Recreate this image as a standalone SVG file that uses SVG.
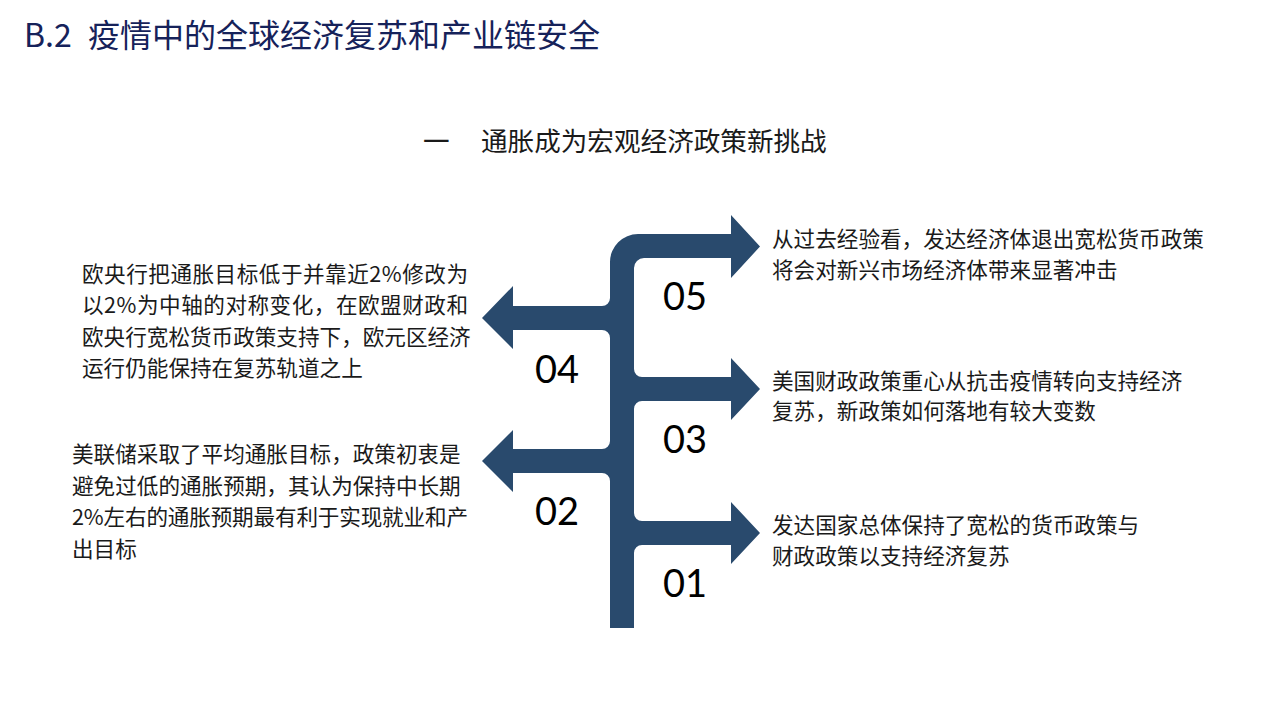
<svg xmlns="http://www.w3.org/2000/svg" width="1280" height="720" viewBox="0 0 1280 720">
  <style>
    .bg { fill: #ffffff; }
    .arrow { fill: #294a6d; }
    .title { font-family: "Noto Sans CJK SC", "Noto Sans", sans-serif; font-size: 32px; fill: #16225a; }
    .sub { font-family: "Noto Sans CJK SC", "Noto Sans", sans-serif; font-size: 26.6px; fill: #1a1a1a; }
    .body { font-family: "Noto Sans CJK SC", "Noto Sans", sans-serif; font-size: 21.6px; fill: #1a1a1a; }
    .num { font-family: Lato, "Noto Sans", sans-serif; font-size: 38px; fill: #000000; text-anchor: middle; }
  </style>
  <rect class="bg" x="0" y="0" width="1280" height="720"/>

  <g id="title">
    <text class="title" y="47"><tspan x="24">B.2</tspan><tspan x="88">疫情中的全球经济复苏和产业链安全</tspan></text>
  </g>
  <g id="subtitle">
    <text class="sub" y="151"><tspan x="423">一</tspan><tspan x="481">通胀成为宏观经济政策新挑战</tspan></text>
  </g>

  <g id="connectors">
    <path class="arrow" d="M610,628 L610,262 A28,28 0 0 1 638,234 L731,234 L731,215 L760,246.5 L731,278 L731,258 L644,258 A10,10 0 0 0 634,268 L634,628 Z"/>
  </g>

  <g id="node-05">
    <text class="num" x="685" y="310">05</text>
    <text class="body"><tspan x="772" y="247">从过去经验看，发达经济体退出宽松货币政策</tspan><tspan x="772" y="278">将会对新兴市场经济体带来显著冲击</tspan></text>
  </g>

  <g id="node-04">
    <path class="arrow" d="M610,298 A8,8 0 0 1 602,306 L513,306 L513,286 L482,318 L513,349 L513,330 L602,330 A8,8 0 0 1 610,338 L622,338 L622,298 Z"/>
    <text class="num" x="557" y="383">04</text>
    <text class="body" x="82" y="282" textLength="386" lengthAdjust="spacing">欧央行把通胀目标低于并靠近2%修改为</text>
    <text class="body" x="82" y="313" textLength="386" lengthAdjust="spacing">以2%为中轴的对称变化，在欧盟财政和</text>
    <text class="body"><tspan x="82" y="345">欧央行宽松货币政策支持下，欧元区经济</tspan><tspan x="82" y="376">运行仍能保持在复苏轨道之上</tspan></text>
  </g>

  <g id="node-03">
    <path class="arrow" d="M634,369 A8,8 0 0 0 642,377 L731,377 L731,358 L760,389 L731,420 L731,401 L642,401 A8,8 0 0 0 634,409 L622,409 L622,369 Z"/>
    <text class="num" x="685" y="453">03</text>
    <text class="body"><tspan x="772" y="389">美国财政政策重心从抗击疫情转向支持经济</tspan><tspan x="772" y="419">复苏，新政策如何落地有较大变数</tspan></text>
  </g>

  <g id="node-02">
    <path class="arrow" d="M610,441 A8,8 0 0 1 602,449 L513,449 L513,430 L482,461 L513,492 L513,473 L602,473 A8,8 0 0 1 610,481 L622,481 L622,441 Z"/>
    <text class="num" x="557" y="525">02</text>
    <text class="body"><tspan x="72" y="462">美联储采取了平均通胀目标，政策初衷是</tspan><tspan x="72" y="494">避免过低的通胀预期，其认为保持中长期</tspan></text>
    <text class="body" x="72" y="525" textLength="396" lengthAdjust="spacing">2%左右的通胀预期最有利于实现就业和产</text>
    <text class="body" x="72" y="557">出目标</text>
  </g>

  <g id="node-01">
    <path class="arrow" d="M634,513 A8,8 0 0 0 642,521 L731,521 L731,502 L760,533 L731,564 L731,545 L642,545 A8,8 0 0 0 634,553 L622,553 L622,513 Z"/>
    <text class="num" x="685" y="597">01</text>
    <text class="body"><tspan x="772" y="533">发达国家总体保持了宽松的货币政策与</tspan><tspan x="772" y="564">财政政策以支持经济复苏</tspan></text>
  </g>
</svg>
